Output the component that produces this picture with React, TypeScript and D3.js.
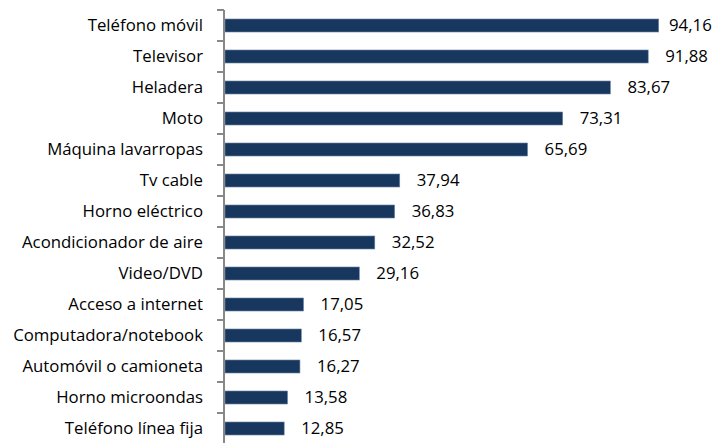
import * as d3 from "d3";

const categories = [
  "Teléfono móvil",
  "Televisor",
  "Heladera",
  "Moto",
  "Máquina lavarropas",
  "Tv cable",
  "Horno eléctrico",
  "Acondicionador de aire",
  "Video/DVD",
  "Acceso a internet",
  "Computadora/notebook",
  "Automóvil o camioneta",
  "Horno microondas ",
  "Teléfono línea fija",
];

const values = [94.16, 91.88, 83.67, 73.31, 65.69, 37.94, 36.83, 32.52, 29.16, 17.05, 16.57, 16.27, 13.58, 12.85];

const fmt = (v: number) => v.toFixed(2).replace(".", ",");

export default function App() {
  const W = 718;
  const H = 443;
  const axisX = 224;
  const top = 10;
  const bottom = 444;

  const y = d3.scaleBand<string>().domain(categories).range([top, bottom]).paddingInner(0.58).paddingOuter(0.29);
  const band = d3.scaleBand<string>().domain(categories).range([top, bottom]);
  const x = d3.scaleLinear().domain([0, 100]).range([axisX + 1, axisX + 1 + 460.6]);

  const font = "'Open Sans', sans-serif";
  const fs = 16.8;

  return (
    <svg width={W} height={H} style={{ position: "absolute", left: 0, top: 0 }}>
      <rect width={W} height={H} fill="#fff" />
      {categories.map((c, i) => {
        const cy = (band(c) as number) + band.bandwidth() / 2;
        const tx = Math.min(x(values[i]) + 17, 712 - 43);
        return (
          <g key={c}>
            <rect
              x={x(0)}
              y={y(c)}
              width={x(values[i]) - x(0)}
              height={y.bandwidth()}
              fill="#17375E"
              stroke="#6f87a6"
              strokeWidth={0.6}
            />
            <text x={tx} y={cy + 5.5} fontFamily={font} fontSize={fs} fill="#000">
              {fmt(values[i])}
            </text>
            <text x={203} y={cy + 5.5} textAnchor="end" fontFamily={font} fontSize={fs} fill="#000">
              {c}
            </text>
          </g>
        );
      })}
      <line x1={axisX} x2={axisX} y1={top} y2={bottom} stroke="#888" strokeWidth={2} />
      {d3.range(categories.length + 1).map((i) => {
        const ty = top + i * band.step();
        return <line key={i} x1={axisX - 7} x2={axisX} y1={ty} y2={ty} stroke="#888" strokeWidth={2} />;
      })}
    </svg>
  );
}
